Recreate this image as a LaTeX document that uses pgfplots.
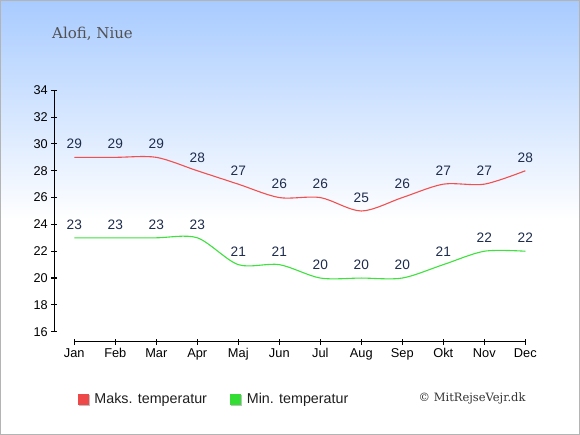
\documentclass[border=0pt]{standalone}
\usepackage{pgfplots}
\pgfplotsset{compat=1.18}
\usepackage{fontspec}
\setmainfont{Liberation Sans}
\newfontfamily\serifdv{DejaVu Serif}
\definecolor{maxc}{HTML}{F25050}
\definecolor{minc}{HTML}{3DE23D}
\definecolor{maxsq}{HTML}{EE4848}
\definecolor{minsq}{HTML}{33DD33}
\definecolor{lblc}{HTML}{1F2D4D}
\definecolor{bgtop}{HTML}{A8CBFF}
\definecolor{brd}{HTML}{B4B4B4}
\begin{document}
\begin{tikzpicture}[x=1bp,y=1bp]
\fill[white] (0,0) rectangle (580,435);
\shade[top color=bgtop, bottom color=white] (0,215) rectangle (580,435);
\draw[brd, line width=1.2bp] (0.6,0.6) rectangle (579.4,434.4);
\node[anchor=base west, font=\serifdv\fontsize{15bp}{18bp}\selectfont, text=black!68, inner sep=0pt] at (52,396.7) {Alofi, Niue};
\node[anchor=base east, font=\serifdv\fontsize{11.5bp}{13bp}\selectfont, text=black!80, inner sep=0pt] at (525.7,33.3) {© MitRejseVejr.dk};
% y axis
\begin{axis}[
  at={(54.3bp,103.3bp)}, anchor=south west,
  scale only axis, width=1bp, height=241.4bp,
  xmin=0, xmax=1, ymin=16, ymax=34,
  axis y line=left, axis x line=none,
  axis line style={-, line width=1.1bp, black},
  ytick={16,18,...,34},
  tick align=center, major tick length=6bp,
  tick style={line width=1.1bp, black},
  /pgf/number format/assume math mode=true,
  yticklabel style={font=\fontsize{12.7bp}{15bp}\selectfont, text=black},
]
\addplot[draw=none] coordinates {(0,20)};
\end{axis}
% x axis and data
\begin{axis}[
  at={(74.3bp,93.3bp)}, anchor=south west,
  scale only axis, width=451bp, height=251.4bp,
  xmin=0, xmax=11, ymin=15.2543, ymax=34,
  axis x line=bottom, axis y line=none,
  axis line style={-, line width=1.1bp, black},
  xtick={0,...,11},
  xticklabels={Jan,Feb,Mar,Apr,Maj,Jun,Jul,Aug,Sep,Okt,Nov,Dec},
  tick align=center, major tick length=6bp,
  tick style={line width=1.1bp, black},
  xticklabel style={font=\fontsize{12.8bp}{15bp}\selectfont, text=black},
  clip=false,
  /pgf/number format/assume math mode=true,
  nodes near coords,
  nodes near coords style={anchor=base, yshift=8.6bp, inner sep=0pt, font=\fontsize{13.7bp}{16bp}\selectfont, text=lblc},
  legend style={at={(axis description cs:0,0)}, anchor=west, xshift=3bp, yshift=-57.3bp,
    draw=none, fill=none, inner sep=0pt, legend columns=2,
    font=\fontsize{14.3bp}{17bp}\selectfont, text=black!88,
    nodes={inner sep=0pt},
    /tikz/every odd column/.append style={column sep=5.5bp},
    /tikz/every even column/.append style={column sep=23bp}},
  legend cell align=left,
]
\addplot[maxc, line width=1.1bp, smooth, forget plot] coordinates {
(0,29) (1,29) (2,29) (3,28) (4,27) (5,26) (6,26) (7,25) (8,26) (9,27) (10,27) (11,28)};
\addplot[minc, line width=1.1bp, smooth, forget plot] coordinates {
(0,23) (1,23) (2,23) (3,23) (4,21) (5,21) (6,20) (7,20) (8,20) (9,21) (10,22) (11,22)};
\addlegendimage{legend image code/.code={\fill[black!25] (1bp,-6bp) rectangle (11bp,4bp); \fill[maxsq] (0bp,-5bp) rectangle (10bp,5bp);}}
\addlegendentry{Maks. temperatur}
\addlegendimage{legend image code/.code={\fill[black!25] (1bp,-6bp) rectangle (11bp,4bp); \fill[minsq] (0bp,-5bp) rectangle (10bp,5bp);}}
\addlegendentry{Min. temperatur}
\end{axis}
\end{tikzpicture}
\end{document}
